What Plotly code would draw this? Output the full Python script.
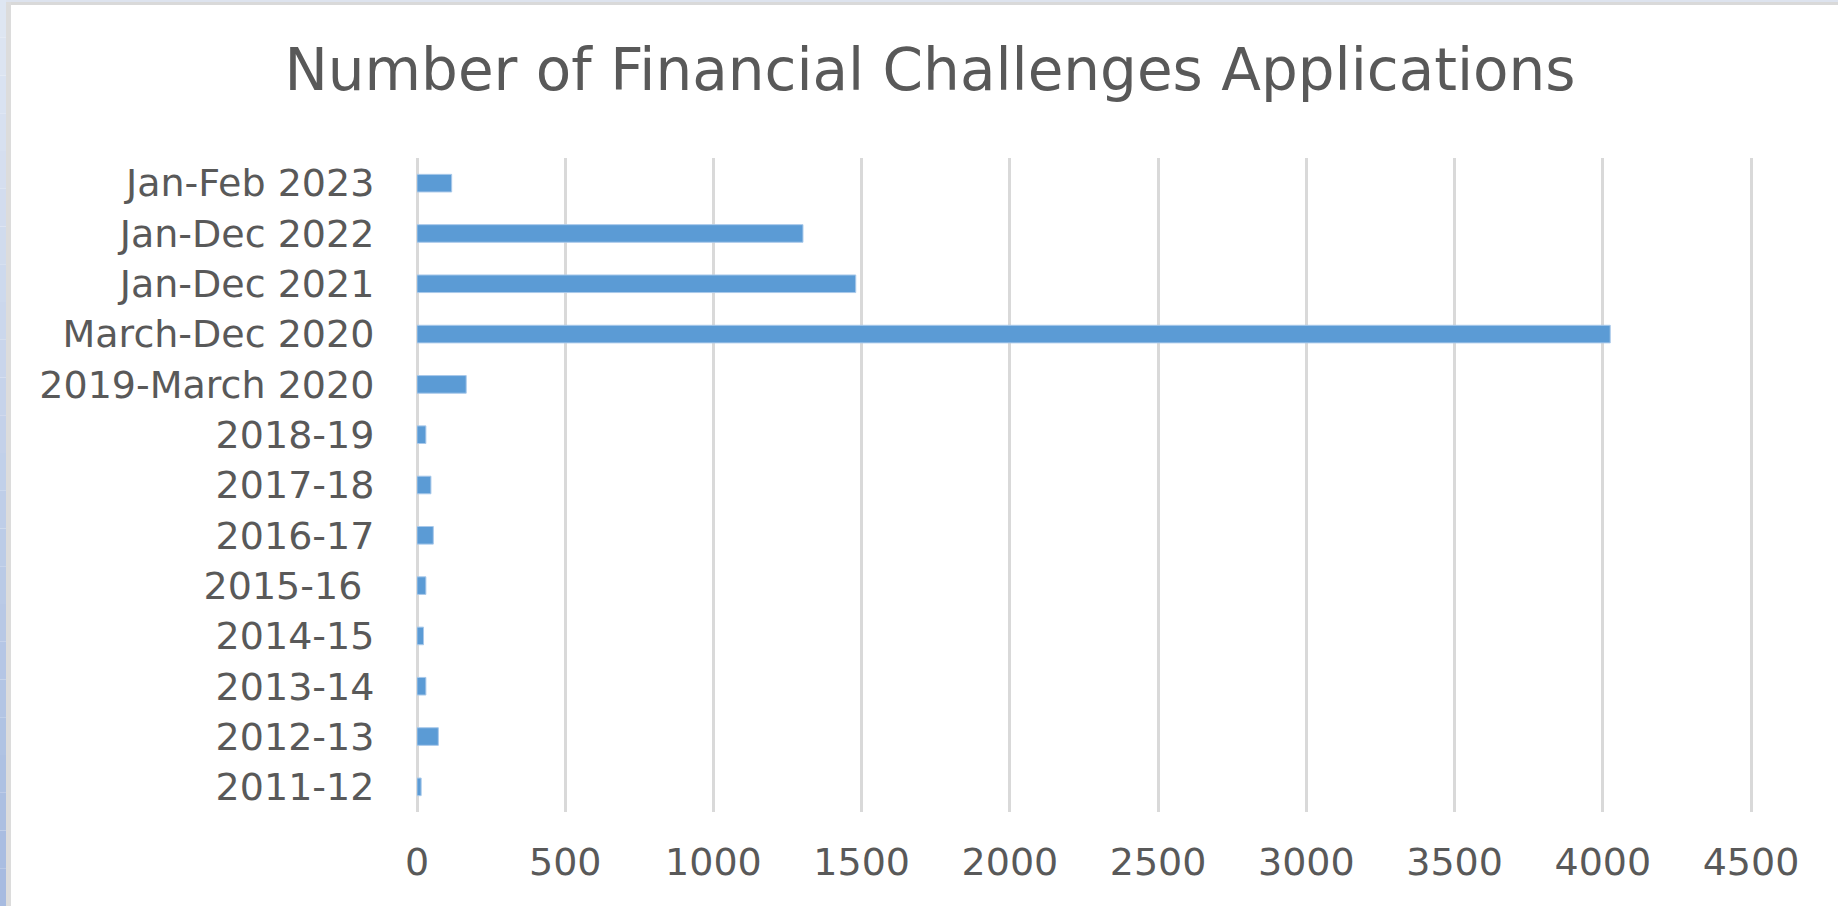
import plotly.graph_objects as go

# ---- data ----
categories = [
    "2011-12", "2012-13", "2013-14", "2014-15", "2015-16\u00a0", "2016-17",
    "2017-18", "2018-19", "2019-March 2020", "March-Dec 2020",
    "Jan-Dec 2021", "Jan-Dec 2022", "Jan-Feb 2023",
]
applications = [14, 72, 30, 22, 30, 55, 47, 30, 166, 4025, 1480, 1302, 117]
x_ticks = [0, 500, 1000, 1500, 2000, 2500, 3000, 3500, 4000, 4500]
title_text = "Number of Financial Challenges Applications"

# ---- layout constants ----
W, H = 1838, 906
ML, MR, MT, MB = 417, 84, 158, 94
X_MAX = 4510
FONT = "DejaVu Sans"
TXT = "#595959"

fig = go.Figure(
    go.Bar(
        y=categories,
        x=applications,
        orientation="h",
        width=0.35,
        marker=dict(color="#5b9bd5", line=dict(color="#a9c9ea", width=1)),
        hoverinfo="x+y",
    )
)

pw = W - ML - MR
ph = H - MT - MB


def px_x(p):
    return (p - ML) / pw


def px_y(p):
    return 1 - (p - MT) / ph


shapes = []
# top gray frame strip
shapes.append(dict(type="rect", xref="paper", yref="paper", x0=px_x(0), x1=px_x(W),
                   y0=px_y(2), y1=px_y(0), fillcolor="#dde3ee", line=dict(width=0), layer="below"))
shapes.append(dict(type="rect", xref="paper", yref="paper", x0=px_x(6), x1=px_x(W),
                   y0=px_y(5), y1=px_y(2), fillcolor="#d9d9d9", line=dict(width=0), layer="below"))
# left gradient strip
n = 24
c0 = (0xE0, 0xE7, 0xF3)
c1 = (0xA6, 0xBB, 0xE0)
for i in range(n):
    t = (i + 0.5) / n
    col = "rgb(%d,%d,%d)" % tuple(int(a + (b - a) * t) for a, b in zip(c0, c1))
    shapes.append(dict(type="rect", xref="paper", yref="paper", x0=px_x(0), x1=px_x(6),
                       y0=px_y(H * (i + 1) / n), y1=px_y(H * i / n),
                       fillcolor=col, line=dict(width=0), layer="below"))
shapes.append(dict(type="rect", xref="paper", yref="paper", x0=px_x(6), x1=px_x(11),
                   y0=px_y(H), y1=px_y(2), fillcolor="#dcdcdc", line=dict(width=0), layer="below"))

fig.update_layout(
    width=W,
    height=H,
    margin=dict(l=ML, r=MR, t=MT, b=MB, pad=0),
    paper_bgcolor="white",
    plot_bgcolor="white",
    showlegend=False,
    font=dict(family=FONT, color=TXT),
    title=dict(
        text=title_text,
        font=dict(family=FONT, size=58, color=TXT),
        x=930 / W,
        xanchor="center",
        xref="container",
        y=1 - 70 / H,
        yanchor="middle",
        yref="container",
    ),
    xaxis=dict(
        range=[0, X_MAX],
        tickmode="array",
        tickvals=x_ticks,
        ticktext=[str(v) for v in x_ticks],
        showgrid=True,
        gridcolor="#d9d9d9",
        gridwidth=3,
        zeroline=True,
        zerolinecolor="#d9d9d9",
        zerolinewidth=3,
        showline=False,
        ticks="outside",
        ticklen=16,
        tickcolor="rgba(0,0,0,0)",
        tickfont=dict(family=FONT, size=38, color=TXT),
        fixedrange=True,
    ),
    yaxis=dict(
        type="category",
        categoryorder="array",
        categoryarray=categories,
        showgrid=False,
        showline=False,
        zeroline=False,
        ticks="outside",
        ticklen=34,
        tickcolor="rgba(0,0,0,0)",
        tickfont=dict(family=FONT, size=38, color=TXT),
        range=[-0.5, len(categories) - 0.5],
        fixedrange=True,
    ),
    shapes=shapes,
)

fig.write_html(
    "out.html",
    config={"displayModeBar": False},
    post_script="document.body.style.margin='0';document.body.style.padding='0';",
)
